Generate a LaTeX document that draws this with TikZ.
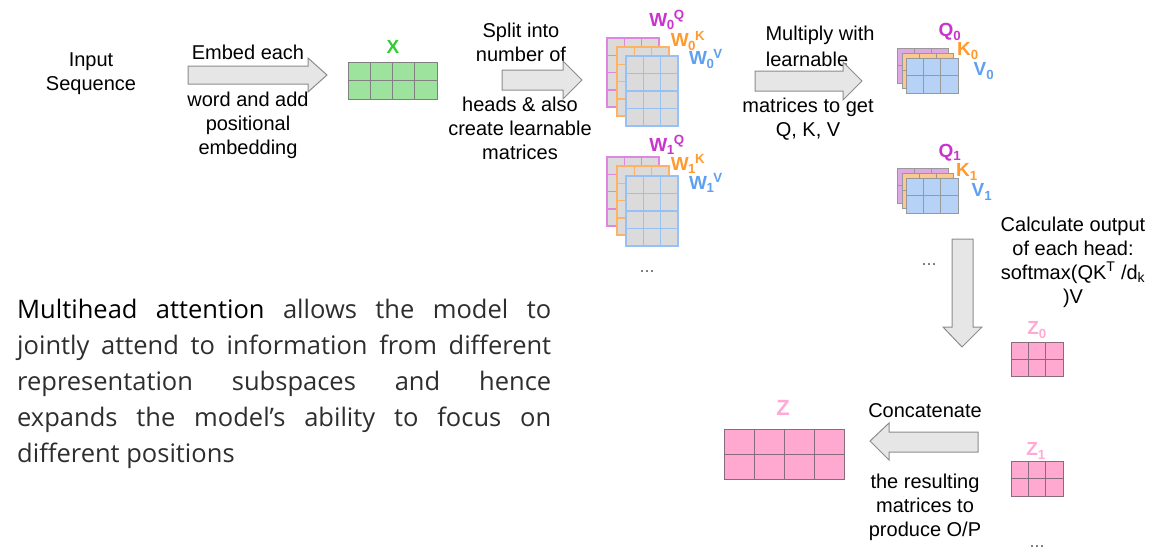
\documentclass[tikz,border=0pt]{standalone}
\usepackage{fontspec}
\setmainfont{Liberation Sans}
\newfontfamily\parafont{Open Sans}
\definecolor{cmag}{HTML}{C935CC}
\definecolor{corg}{HTML}{FF9A2E}
\definecolor{cblu}{HTML}{5FA0F0}
\definecolor{cgrn}{HTML}{33CC33}
\definecolor{cpnk}{HTML}{FFAAD2}
\definecolor{arrfill}{HTML}{E6E6E6}
\definecolor{arrdraw}{HTML}{8C8C8C}
\definecolor{paragray}{HTML}{2E2E2E}
\definecolor{HTMLdda8e3}{HTML}{DDA8E3}
\definecolor{HTMLf9c98f}{HTML}{F9C98F}
\definecolor{HTMLb6d3f7}{HTML}{B6D3F7}
\definecolor{HTMLffa8d0}{HTML}{FFA8D0}
\definecolor{HTML8a6b7b}{HTML}{8A6B7B}
\definecolor{HTML9de39d}{HTML}{9DE39D}
\newcommand\matgrid[7]{%
  \pgfmathsetmacro\mgcw{#3/#5}\pgfmathsetmacro\mgch{#4/#6}%
  \pgfmathtruncatemacro\mgnc{#5-1}\pgfmathtruncatemacro\mgnr{#6-1}%
  \filldraw[#7] (#1,#2) rectangle ++(#3,#4);
  \foreach \i in {1,...,\mgnc}{\draw[#7] (#1+\i*\mgcw,#2) -- ++(0,#4);}
  \foreach \j in {1,...,\mgnr}{\draw[#7] (#1,#2+\j*\mgch) -- ++(#3,0);}
}
\newcommand\sbsp[3]{#1\textsubscript{\kern-0.5pt#2}\kern-1pt\textsuperscript{#3}}
\tikzset{
  txt/.style={font=\fontsize{20}{24}\selectfont, align=center, inner sep=0pt},
  lbl/.style={font=\fontsize{19}{19}\selectfont\bfseries, inner sep=0pt},
  dots/.style={font=\fontsize{18}{18}\selectfont, text=black!60, inner sep=0pt},
  blockarrow/.style={fill=arrfill, draw=arrdraw, line width=1pt, line join=miter},
  wpink/.style={fill=black!14, draw=cmag!60, line width=1.5pt},
  worg/.style={fill=black!14, draw=corg!75, line width=1.5pt},
  wblu/.style={fill=black!14, draw=cblu!65, line width=1.5pt},
  qpink/.style={fill=HTMLdda8e3, draw=black!40, line width=1pt},
  qorg/.style={fill=HTMLf9c98f, draw=black!40, line width=1pt},
  qblu/.style={fill=HTMLb6d3f7, draw=black!40, line width=1pt},
  zgrid/.style={fill=HTMLffa8d0, draw=HTML8a6b7b, line width=1pt},
  xgrid/.style={fill=HTML9de39d, draw=black!50, line width=1pt},
}
\begin{document}
\begin{tikzpicture}[x=1pt,y=-1pt]
\useasboundingbox (0,0) rectangle (1155,550);
% texts
\node[txt] (inseq) at (91,73.5) {Input\\Sequence};
\node[txt] (emb1) at (248,52) {Embed each};
\node[txt] (emb2) at (248,125.5) {word and add\\positional\\embedding};
\node[txt] (spl1) at (521,42.5) {Split into\\number of};
\node[txt] (spl2) at (520,128) {heads \& also\\create learnable\\matrices};
\node[txt] (mul1) at (820,35) {Multiply with};
\node[txt] (mul2) at (807,59) {learnable};
\node[txt] (mul3) at (808,119) {matrices to get\\Q, K, V};
\node[txt] (calc) at (1073,262) {Calculate output\\of each head:\\softmax(QK\textsuperscript{T} /d\textsubscript{k}\\)V};
\node[txt] (conc1) at (925,411) {Concatenate};
\node[txt] (conc2) at (925,507.5) {the resulting\\matrices to\\produce O/P};
% block arrows
\draw[blockarrow] (188,66) -- (308,66) -- (308,58) -- (327,75) -- (308,92) -- (308,84) -- (188,84) -- cycle;
\draw[blockarrow] (502,70) -- (563,70) -- (563,61) -- (582,80) -- (563,99) -- (563,90) -- (502,90) -- cycle;
\draw[blockarrow] (755,71) -- (843,71) -- (843,62) -- (862,81) -- (843,100) -- (843,91) -- (755,91) -- cycle;
\draw[blockarrow] (952,239) -- (973,239) -- (973,327) -- (982,327) -- (962,347) -- (943,327) -- (952,327) -- cycle;
\draw[blockarrow] (978,432) -- (889,432) -- (889,423) -- (870,441) -- (889,460) -- (889,452) -- (978,452) -- cycle;
% X
\matgrid{348}{62}{89}{37}{4}{2}{xgrid}
\node[lbl, text=cgrn] (xl) at (393,47) {X};
% W0 stack
\matgrid{607}{38}{52}{69}{3}{4}{wpink}
\matgrid{617}{47}{52}{69}{3}{4}{worg}
\matgrid{626}{56}{52}{70}{3}{4}{wblu}
\node[lbl, text=cmag] (w0q) at (667,20) {\sbsp{W}{0}{Q}};
\node[lbl, text=corg] (w0k) at (688,41) {\sbsp{W}{0}{K}};
\node[lbl, text=cblu] (w0v) at (706,59) {\sbsp{W}{0}{V}};
% W1 stack
\matgrid{607}{157}{52}{69}{3}{4}{wpink}
\matgrid{617}{166}{52}{69}{3}{4}{worg}
\matgrid{626}{176}{52}{70}{3}{4}{wblu}
\node[lbl, text=cmag] (w1q) at (667,145) {\sbsp{W}{1}{Q}};
\node[lbl, text=corg] (w1k) at (688,164) {\sbsp{W}{1}{K}};
\node[lbl, text=cblu] (w1v) at (706,183) {\sbsp{W}{1}{V}};
\node[dots] (wdots) at (647,272) {...};
% Q0 stack
\matgrid{897}{48}{51}{35}{3}{2}{qpink}
\matgrid{902}{53}{51}{35}{3}{2}{qorg}
\matgrid{906}{58}{52}{35}{3}{2}{qblu}
\node[lbl, text=cmag] (q0) at (950,32) {Q\textsubscript{0}};
\node[lbl, text=corg] (k0) at (968,51) {K\textsubscript{0}};
\node[lbl, text=cblu] (v0) at (984,71) {V\textsubscript{0}};
% Q1 stack
\matgrid{897}{168}{51}{35}{3}{2}{qpink}
\matgrid{902}{173}{51}{35}{3}{2}{qorg}
\matgrid{906}{178}{52}{35}{3}{2}{qblu}
\node[lbl, text=cmag] (q1) at (950,153) {Q\textsubscript{1}};
\node[lbl, text=corg] (k1) at (967,172) {K\textsubscript{1}};
\node[lbl, text=cblu] (v1) at (982,192) {V\textsubscript{1}};
\node[dots] (qdots) at (929,265) {...};
% Z0, Z1
\matgrid{1011}{342}{52}{34}{3}{2}{zgrid}
\node[lbl, text=cpnk] (z0) at (1037,330) {Z\textsubscript{0}};
\matgrid{1011}{461}{52}{35}{3}{2}{zgrid}
\node[lbl, text=cpnk] (z1) at (1036,451) {Z\textsubscript{1}};
\node[dots] (zdots) at (1037,547) {...};
% Z
\matgrid{724}{429}{120}{50}{4}{2}{zgrid}
\node[lbl, text=cpnk, font=\fontsize{22}{22}\selectfont\bfseries] (zl) at (783,408) {Z};
% paragraph
\node[anchor=north west, text width=534pt, align=justify, inner sep=0pt,
      font=\parafont\fontsize{25.5}{36}\selectfont, text=paragray] (para) at (17,299)
 {\textcolor{black}{Multihead attention} allows the model to\linebreak
  jointly attend to information from different\linebreak
  representation subspaces and hence\linebreak
  expands the model’s ability to focus on\linebreak
  different positions};
\end{tikzpicture}
\end{document}
